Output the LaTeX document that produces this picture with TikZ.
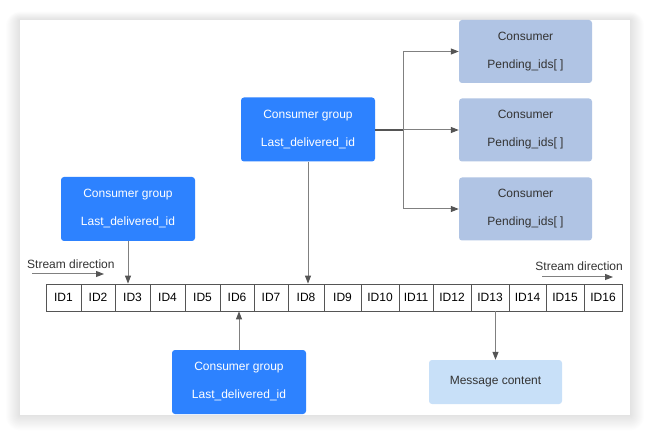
\documentclass[tikz,border=0pt]{standalone}
\usepackage{fontspec}
\setmainfont{Liberation Sans}
\usetikzlibrary{arrows.meta,calc}
\definecolor{cgblue}{HTML}{2D82FF}
\definecolor{consfill}{HTML}{B0C4E4}
\definecolor{msgfill}{HTML}{C8E0F8}
\definecolor{linegray}{HTML}{808080}
\definecolor{headgray}{HTML}{555555}
\definecolor{txtgray}{HTML}{333333}
\begin{document}
\begin{tikzpicture}[x=1pt,y=-1pt,
  every node/.style={font=\fontsize{12}{28}\selectfont},
  cgbox/.style={fill=cgblue, rounded corners=3pt, text=white, align=center,
    minimum width=134pt, minimum height=64pt, inner sep=0pt},
  consbox/.style={fill=consfill, rounded corners=3pt, text=txtgray, align=center,
    minimum width=133pt, minimum height=63pt, inner sep=0pt},
  msgbox/.style={fill=msgfill, rounded corners=3pt, text=txtgray, align=center,
    minimum width=133pt, minimum height=44pt, inner sep=0pt},
  cell/.style={draw=headgray, line width=0.8pt, text=black, minimum height=27pt,
    inner sep=0pt},
  arr/.style={draw=linegray, line width=1pt,
    -{Triangle[length=8pt,width=6pt,fill=headgray,color=headgray]}},
  lbl/.style={text=txtgray, inner sep=0pt}
]
\useasboundingbox (0,0) rectangle (650,435);
\fill[white] (0,0) rectangle (650,435);
% card shadow
\foreach \s in {1,...,14}{
  \fill[black, opacity=0.008, rounded corners=\s pt]
    ($(20,20)+(-\s,-\s*0.6)$) rectangle ($(630,415)+(\s,\s*1.1)$);
}
\fill[white] (20,20) rectangle (630,415);

% stream cells
\foreach \xa/\xb [count=\i] in {46/81,81/115,115/150,150/185,185/220,220/254,254/288,288/324,
  324/361,361/399,399/433,433/471,471/509,509/546,546/584,584/622}{
  \node[cell, minimum width={(\xb-\xa)*1pt}] (id\i) at ({(\xa+\xb)/2},297.5) {ID\i};
}

% consumer groups
\node[cgbox] (cgT) at (308,129.5) {Consumer group\\Last\_delivered\_id};
\node[cgbox] (cgL) at (128,209) {Consumer group\\Last\_delivered\_id};
\node[cgbox] (cgB) at (239,382) {Consumer group\\Last\_delivered\_id};

% consumers
\node[consbox] (c1) at (525.5,51.5) {Consumer\\Pending\_ids[ ]};
\node[consbox] (c2) at (525.5,130) {Consumer\\Pending\_ids[ ]};
\node[consbox] (c3) at (525.5,209) {Consumer\\Pending\_ids[ ]};

% message content
\node[msgbox] (msg) at (495.5,382) {Message content};

% connectors
\draw[arr] (cgL.south) -- (cgL.south |- id3.north);
\draw[arr] (cgT.south) -- (cgT.south |- id8.north);
\draw[arr] (cgB.north) -- (cgB.north |- id6.south);
\draw[arr] (msg.north |- id13.south) -- (msg.north);

\coordinate (split) at (403,130);
\draw[draw=headgray, line width=1.2pt] (cgT.east |- split) -- (split);
\draw[arr] (split) -- (c2.west);
\draw[arr] (split) |- (c1.west);
\draw[arr] (split) |- (c3.west);

% stream direction
\node[lbl, anchor=base west] (sdL) at (27,269) {Stream direction};
\coordinate (sdLa) at (32,274);
\coordinate (sdLb) at (104,274);
\draw[arr] (sdLa) -- (sdLb);
\node[lbl, anchor=base east] (sdR) at (623,271) {Stream direction};
\coordinate (sdRa) at (542,277);
\coordinate (sdRb) at (613,277);
\draw[arr] (sdRa) -- (sdRb);
\end{tikzpicture}
\end{document}
